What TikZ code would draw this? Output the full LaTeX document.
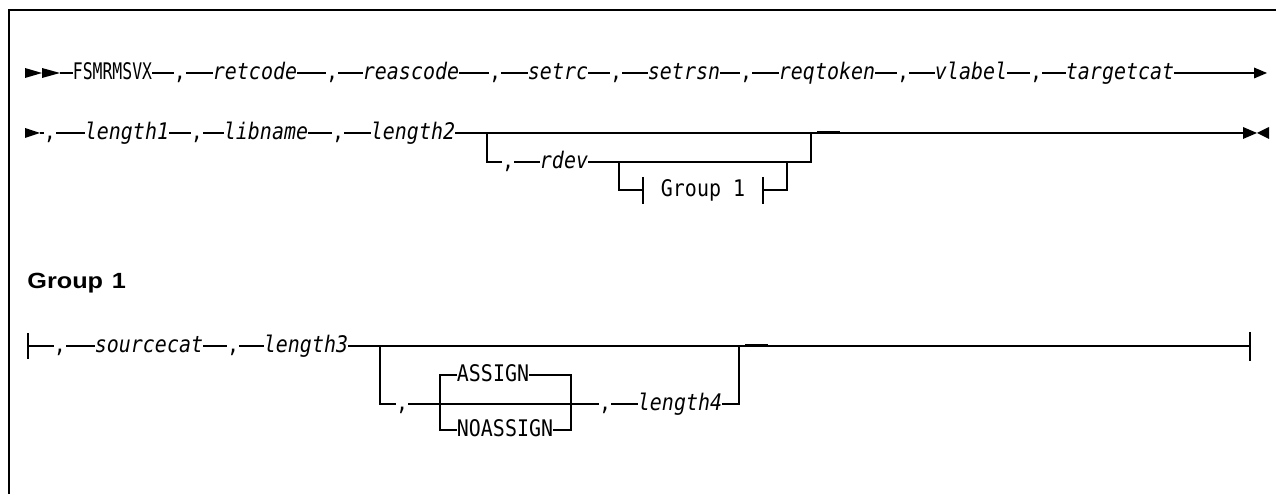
\documentclass[tikz,border=0pt]{standalone}
\usepackage{fontspec}
\newfontfamily\railfont{DejaVu Sans Mono}[FakeStretch=0.873]
\newfontfamily\cmdfont{DejaVu Sans Mono}[FakeStretch=0.72]
\newfontfamily\headfont{Liberation Sans}[FakeStretch=1.15]
\tikzset{
    rail/.style={line width=0.9pt},
    kw/.style={inner xsep=0pt, inner ysep=0pt, text height=10pt, text depth=2.6pt,
        font=\railfont\fontsize{13}{15}\selectfont},
    var/.style={kw, font=\railfont\itshape\fontsize{13}{15}\selectfont},
}

\begin{document}
\begin{tikzpicture}
        \useasboundingbox (0,0) rectangle (25.52,9.88);
        \draw[line width=0.6pt] (0.18,0)--(0.18,9.68)--(25.52,9.68);

        % first line
        \node[kw, font=\cmdfont\fontsize{13}{15}\selectfont] (cmd) at (2.25, 8.42) {FSMRMSVX};
        \node[kw] (c1) at (3.60, 8.42) {,};
        \node[var] (retcode) at (5.10, 8.42) {retcode};
        \node[kw] (c2) at (6.64, 8.42) {,};
        \node[var] (reascode) at (8.22, 8.42) {reascode};
        \node[kw] (c3) at (9.90, 8.42) {,};
        \node[var] (setrc) at (11.16, 8.42) {setrc};
        \node[kw] (c4) at (12.32, 8.42) {,};
        \node[var] (setrsn) at (13.68, 8.42) {setrsn};
        \node[kw] (c5) at (14.92, 8.42) {,};
        \node[var] (reqtoken) at (16.54, 8.42) {reqtoken};
        \node[kw] (c6) at (18.06, 8.42) {,};
        \node[var] (vlabel) at (19.42, 8.42) {vlabel};
        \node[kw] (c7) at (20.72, 8.42) {,};
        \node[var] (targetcat) at (22.40, 8.42) {targetcat};
        \coordinate (st1) at (1.20, 8.42);
        \coordinate (en1) at (25.12, 8.42);
        \draw[rail] (st1) -- (cmd) -- (c1) -- (retcode) -- (c2) -- (reascode) -- (c3)
            -- (setrc) -- (c4) -- (setrsn) -- (c5) -- (reqtoken) -- (c6) -- (vlabel)
            -- (c7) -- (targetcat) -- (en1);
        \fill (0.50, 8.52) -- (0.84, 8.42) -- (0.50, 8.32) -- cycle;
        \fill (0.84, 8.52) -- (1.20, 8.42) -- (0.84, 8.32) -- cycle;
        \fill (25.08, 8.53) -- (25.34, 8.42) -- (25.08, 8.31) -- cycle;

        % second line
        \node[kw] (d1) at (1.00, 7.22) {,};
        \node[var] (length1) at (2.54, 7.22) {length1};
        \node[kw] (d2) at (3.94, 7.22) {,};
        \node[var] (libname) at (5.32, 7.22) {libname};
        \node[kw] (d3) at (6.76, 7.22) {,};
        \node[var] (length2) at (8.26, 7.22) {length2};
        \coordinate (st2) at (0.80, 7.22);
        \coordinate (en2) at (24.88, 7.22);
        \draw[rail] (st2) -- (d1) -- (length1) -- (d2) -- (libname) -- (d3) -- (length2) -- (en2);
        \draw[rail] (16.34, 7.24) -- (16.80, 7.24);
        \fill (0.50, 7.32) -- (0.80, 7.22) -- (0.50, 7.12) -- cycle;
        \fill (24.86, 7.34) -- (25.14, 7.22) -- (24.86, 7.10) -- cycle;
        \fill (25.38, 7.34) -- (25.14, 7.22) -- (25.38, 7.10) -- cycle;

        % optional rdev
        \coordinate (j1) at (9.74, 7.22);
        \coordinate (j2) at (16.22, 7.22);
        \node[kw] (d4) at (10.16, 6.64) {,};
        \node[var] (rdev) at (11.28, 6.64) {rdev};
        \draw[rail] (j1) |- (d4);
        \draw[rail] (d4) -- (rdev);
        \draw[rail] (rdev) -| (j2);

        \coordinate (k1) at (12.38, 6.64);
        \coordinate (k2) at (15.74, 6.64);
        \node[kw] (grpref) at (14.06, 6.08) {Group 1};
        \coordinate (gl) at (12.86, 6.08);
        \coordinate (gr) at (15.26, 6.08);
        \draw[rail] (k1) |- (gl);
        \draw[rail] (gr) -| (k2);
        \draw[rail] (12.86, 6.34) -- (12.86, 5.80);
        \draw[rail] (15.26, 6.34) -- (15.26, 5.80);

        % Group 1
        \node[font=\headfont\bfseries\fontsize{12.5}{15}\selectfont, anchor=base west, inner sep=0pt]
            (grphead) at (0.54, 4.10) {Group\hspace{5pt}1};

        \node[kw] (g1) at (1.20, 2.96) {,};
        \node[var] (sourcecat) at (2.98, 2.96) {sourcecat};
        \node[kw] (g2) at (4.66, 2.96) {,};
        \node[var] (length3) at (6.12, 2.96) {length3};
        \coordinate (bg) at (0.56, 2.96);
        \coordinate (eg) at (25.00, 2.96);
        \draw[rail] (bg) -- (g1) -- (sourcecat) -- (g2) -- (length3) -- (eg);
        \draw[rail] (0.56, 3.22) -- (0.56, 2.70);
        \draw[rail] (25.00, 3.24) -- (25.00, 2.66);
        \draw[rail] (14.90, 2.98) -- (15.36, 2.98);

        \coordinate (m1) at (7.60, 2.96);
        \coordinate (m2) at (14.78, 2.96);
        \node[kw] (h1) at (8.04, 1.80) {,};
        \node[kw] (h2) at (12.10, 1.80) {,};
        \node[var] (length4) at (13.60, 1.80) {length4};
        \node[kw] (assign) at (9.86, 2.38) {ASSIGN};
        \node[kw] (noassign) at (10.10, 1.28) {NOASSIGN};
        \draw[rail] (m1) |- (h1);
        \draw[rail] (h1) -- (h2);
        \draw[rail] (h2) -- (length4);
        \draw[rail] (length4) -| (m2);
        \draw[rail] (assign) -| (8.80, 1.28) -- (noassign);
        \draw[rail] (assign) -| (11.42, 1.28) -- (noassign);

    \end{tikzpicture}
\end{document}
